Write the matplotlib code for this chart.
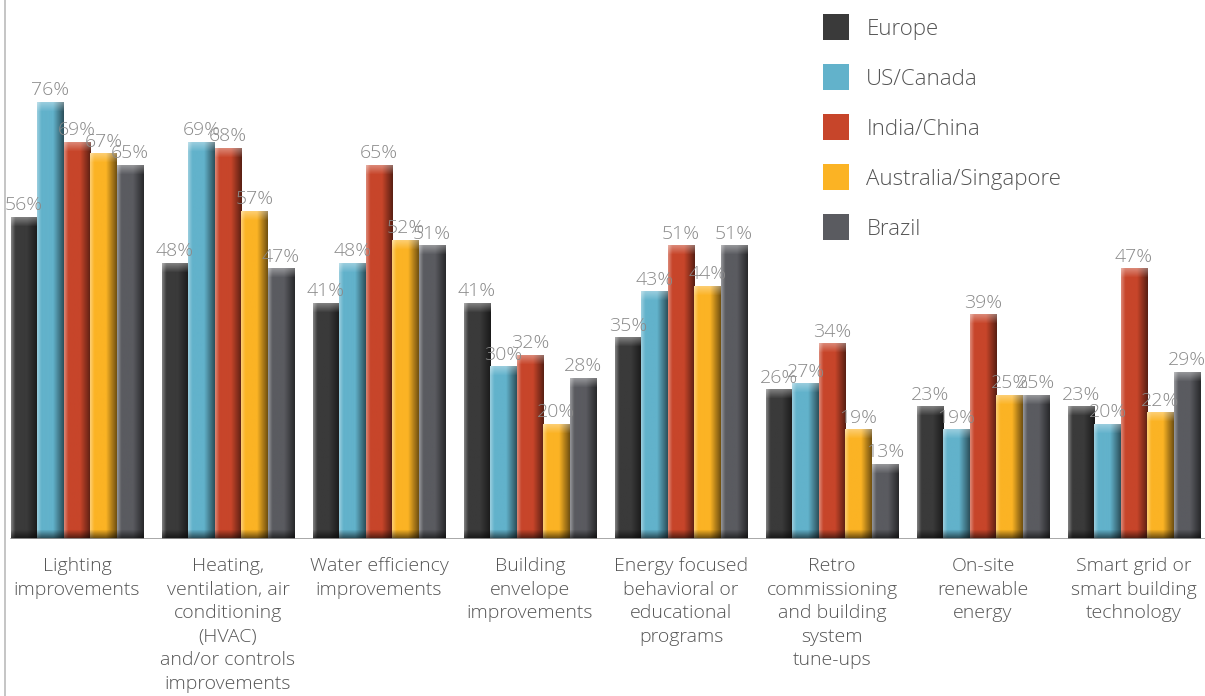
import numpy as np
import matplotlib.pyplot as plt
from matplotlib.colors import to_rgb
from matplotlib.lines import Line2D

plt.rcParams['font.family'] = ['Open Sans', 'DejaVu Sans']

categories = [
    "Lighting\nimprovements",
    "Heating,\nventilation, air\nconditioning\n(HVAC)\nand/or controls\nimprovements",
    "Water efficiency\nimprovements",
    "Building\nenvelope\nimprovements",
    "Energy focused\nbehavioral or\neducational\nprograms",
    "Retro\ncommissioning\nand building\nsystem\ntune-ups",
    "On-site\nrenewable\nenergy",
    "Smart grid or\nsmart building\ntechnology",
]
regions = ["Europe", "US/Canada", "India/China", "Australia/Singapore", "Brazil"]
europe = [56, 48, 41, 41, 35, 26, 23, 23]
us_canada = [76, 69, 48, 30, 43, 27, 19, 20]
india_china = [69, 68, 65, 32, 51, 34, 39, 47]
australia_singapore = [67, 57, 52, 20, 44, 19, 25, 22]
brazil = [65, 47, 51, 28, 51, 13, 25, 29]
series = [europe, us_canada, india_china, australia_singapore, brazil]
colors = ["#3a3a3a", "#62b2cb", "#c7452a", "#fbb324", "#5a5b60"]

W, H = 1205, 696
fig = plt.figure(figsize=(W / 100, H / 100), dpi=100)
base_px = 539
ax = fig.add_axes([5 / W, (H - base_px) / H, 1 - 5 / W, base_px / H])
px_per_unit = 5.75
ymax = base_px / px_per_unit

group_step = 151
x = np.arange(len(categories))
bw = 26.5 / group_step
x_left = -(77 - 5) / group_step
x_right = (W - 77) / group_step


def shade_image(color, ny, nx=48):
    # horizontal bevel plus a light cap on top and a dark foot
    u = np.linspace(0, 1, nx)
    c = np.array(to_rgb(color))
    light = np.clip(0.35 * (1 - u / 0.16), 0, None) * (u < 0.16)
    dark = np.clip((u - 0.6) / 0.4, 0, 1) * 0.55
    row = c[None, :] * (1 - dark[:, None]) + (1 - c[None, :]) * light[:, None]
    img = np.repeat(row[None, :, :], ny, axis=0)  # row 0 = top
    k = np.arange(ny)
    cap = np.clip(1 - k / 9.0, 0, 1)[:, None, None] * 0.35
    img = img + (1 - img) * cap
    foot = np.clip(1 - (ny - 1 - k) / 9.0, 0, 1)[:, None, None] * 0.6
    img = img * (1 - foot)
    return np.clip(img, 0, 1)


for i, (vals, col) in enumerate(zip(series, colors)):
    pos = x - 2.5 * bw + (i + 0.5) * bw
    bars = ax.bar(pos, vals, width=bw, color=col, zorder=2, linewidth=0)
    for b, v in zip(bars, vals):
        bx, bwid, bh = b.get_x(), b.get_width(), b.get_height()
        img = shade_image(col, max(int(bh * px_per_unit), 2))
        ax.imshow(img, extent=(bx, bx + bwid, 0, bh), origin='upper',
                  aspect='auto', interpolation='bilinear', zorder=3)
        ax.text(bx + bwid / 2, v + 0.5, f"{v}%", ha='center', va='bottom',
                fontsize=14, fontweight='light', color='#8a8a8a', zorder=4)

ax.set_xlim(x_left, x_right)
ax.set_ylim(0, ymax)
for s in ax.spines.values():
    s.set_visible(False)
ax.set_yticks([])
ax.set_xticks(x)
ax.set_xticklabels(categories, fontsize=14, fontweight='light', color='#555555',
                   linespacing=1.4)
ax.tick_params(axis='x', length=0, pad=13)
ax.axhline(0, xmin=(x[0] - 2.5 * bw - x_left) / (x_right - x_left), xmax=1,
           color='#999999', lw=1.2, zorder=5)

# left frame line
fig.add_artist(Line2D([5 / W, 5 / W], [0, 1], color='#bbbbbb', lw=1.2))

handles = [Line2D([], [], marker='s', ls='', markersize=19, markerfacecolor=c,
                  markeredgewidth=0) for c in colors]
fig.legend(handles, regions, loc='upper left', bbox_to_anchor=(803 / W, 1 + 1 / H),
           frameon=False, prop={'size': 16, 'weight': 'light'}, labelcolor='#555555',
           handletextpad=0.75, labelspacing=1.3, handlelength=1.2)

fig.savefig("out.png", dpi=100)
